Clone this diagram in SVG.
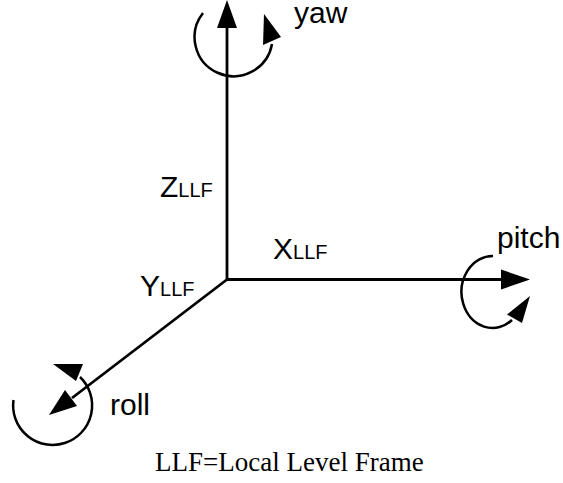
<svg xmlns="http://www.w3.org/2000/svg" width="563" height="483" viewBox="0 0 563 483">
  <style>
    .axis { stroke: #000; stroke-width: 2.8; fill: none; }
    .rot { stroke: #000; stroke-width: 2.5; fill: none; }
    .head { fill: #000; stroke: none; }
    .lbl { font-family: "Liberation Sans", Arial, sans-serif; font-size: 30px; fill: #000; }
    .sub { font-size: 20px; }
    .cap { font-family: "Liberation Serif", "Times New Roman", serif; font-size: 27px; fill: #000; }
  </style>
  <rect width="563" height="483" fill="#fff"/>

  <!-- axes -->
  <g id="connectors">
    <line class="axis" x1="227" y1="279.5" x2="227" y2="27"/>
    <polygon class="head" points="227,0 217,28 237,28"/>
    <line class="axis" x1="227" y1="279.5" x2="502" y2="279.5"/>
    <polygon class="head" points="530,279.5 501,269.5 501,289.5"/>
    <line class="axis" x1="227" y1="279.5" x2="72" y2="398"/>
    <polygon class="head" points="49,415 65,390 77,406"/>
  </g>

  <!-- rotation about Z -->
  <g id="yaw">
    <path class="rot" d="M203,13 A39,39 0 1 0 272,44"/>
    <polygon class="head" points="264,14 281,37 263,45"/>
    <text class="lbl" x="294" y="23">yaw</text>
  </g>

  <!-- rotation about X -->
  <g id="pitch">
    <path class="rot" d="M493,256 A31,36 0 1 0 512,320"/>
    <polygon class="head" points="530,296 507,314.5 522,323"/>
    <text class="lbl" x="497" y="248">pitch</text>
  </g>

  <!-- rotation about Y -->
  <g id="roll">
    <path class="rot" d="M13.5,400 A39.5,39.5 0 1 0 80,377"/>
    <polygon class="head" points="53,364 83,364 76,381"/>
    <text class="lbl" x="110" y="415">roll</text>
  </g>

  <!-- axis names -->
  <g id="z-label"><text class="lbl" x="160" y="197">Z<tspan class="sub">LLF</tspan></text></g>
  <g id="x-label"><text class="lbl" x="273" y="259">X<tspan class="sub">LLF</tspan></text></g>
  <g id="y-label"><text class="lbl" x="140" y="296">Y<tspan class="sub">LLF</tspan></text></g>

  <g id="caption"><text class="cap" x="155" y="471">LLF=Local Level Frame</text></g>
</svg>
